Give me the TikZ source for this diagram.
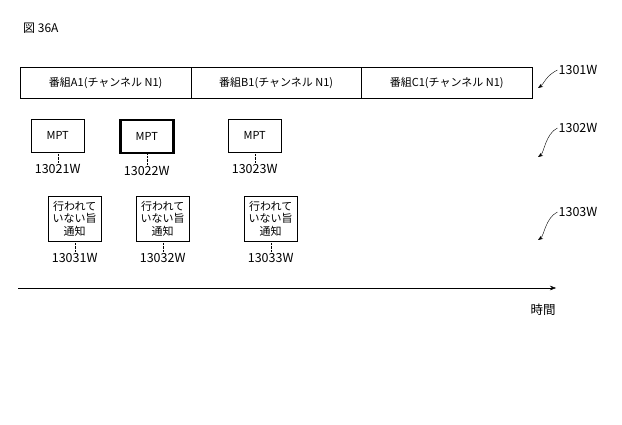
\documentclass[tikz,border=0pt]{standalone}
\usepackage{fontspec}
\setmainfont{Noto Sans CJK JP}
\usetikzlibrary{positioning, arrows.meta, calc}
\begin{document}
\begin{tikzpicture}[
    x=1pt, y=-1pt,
    every node/.style={font=\fontsize{11}{12}\selectfont, inner sep=1pt},
    progbox/.style={draw, minimum height=31pt, anchor=north west},
    mptbox/.style={draw, minimum width=53pt, minimum height=33pt, anchor=north west},
    notebox/.style={draw, minimum width=53pt, minimum height=45pt, anchor=north west, align=center, font=\fontsize{11}{12.5}\selectfont},
    numlabel/.style={font=\fontsize{12.5}{14}\selectfont},
    leader/.style={densely dotted, thin},
    refarrow/.style={-{Stealth[length=5pt]}, thin},
]
\useasboundingbox (0,0) rectangle (622,425);
\node[anchor=west, font=\fontsize{12}{14}\selectfont] (title) at (22,28) {図 36A};
% program row
\node[progbox, minimum width=171pt] (progA) at (20,67) {番組A1(チャンネル N1)};
\node[progbox, minimum width=170pt] (progB) at (191,67) {番組B1(チャンネル N1)};
\node[progbox, minimum width=171pt] (progC) at (361,67) {番組C1(チャンネル N1)};
% MPT row
\node[mptbox] (mpt1) at (31,119) {MPT};
\node[mptbox, line width=2.5pt] (mpt2) at (119,119) {MPT};
\node[mptbox] (mpt3) at (228,119) {MPT};
\foreach \i in {1,2,3} {
    \node[numlabel, below=11pt of mpt\i] (mptlab\i) {1302\i W};
    \draw[leader] (mpt\i) -- (mptlab\i);
}
% notification row
\node[notebox] (note1) at (48,196) {行われて\\いない旨\\通知};
\node[notebox] (note2) at (136,196) {行われて\\いない旨\\通知};
\node[notebox] (note3) at (244,196) {行われて\\いない旨\\通知};
\foreach \i in {1,2,3} {
    \node[numlabel, below=11pt of note\i] (notelab\i) {1303\i W};
    \draw[leader] (note\i) -- (notelab\i);
}
% time axis
\coordinate (axisstart) at (18,288);
\coordinate (axisend) at (556,288);
\draw[-{Stealth[length=6pt]}] (axisstart) -- (axisend);
\node[numlabel] (time) at (543,310) {時間};
% reference labels
\node[numlabel] (ref1) at (578,70) {1301W};
\node[numlabel] (ref2) at (578,128) {1302W};
\node[numlabel] (ref3) at (578,212) {1303W};
\coordinate (tip1) at (538,88);
\coordinate (tip2) at (538,157);
\coordinate (tip3) at (538,240);
\foreach \i in {1,2,3} {
    \draw[refarrow] (ref\i.west) .. controls ($(ref\i.west)+(-12,6)$) and ($(tip\i)+(6,-4)$) .. (tip\i);
}
\end{tikzpicture}
\end{document}
